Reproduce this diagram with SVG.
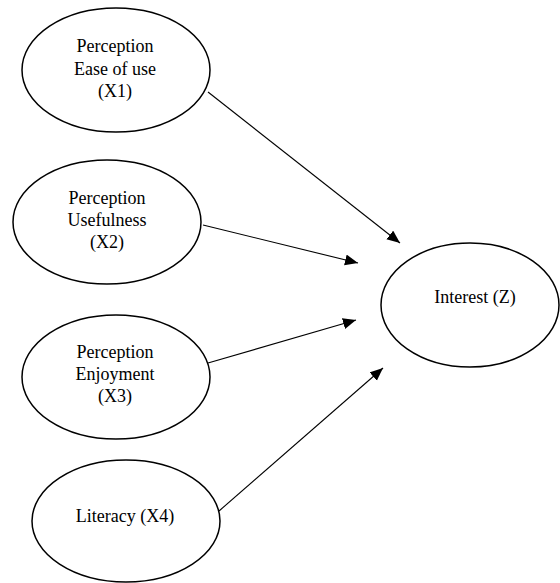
<svg xmlns="http://www.w3.org/2000/svg" width="560" height="583" viewBox="0 0 560 583">
<style>
.n ellipse{fill:#fff;stroke:#000;stroke-width:1.5}
.n text{font-family:"Liberation Serif","Times New Roman",serif;font-size:18px;fill:#000;text-anchor:middle}
.c line{stroke:#000;stroke-width:1.1}
</style>
<defs>
<marker id="ah" markerUnits="userSpaceOnUse" markerWidth="14" markerHeight="12" refX="13" refY="5.5" orient="auto">
<path d="M0,0 L13,5.5 L0,11 Z" fill="#000"/>
</marker>
</defs>
<rect width="560" height="583" fill="#fff"/>
<g id="x1" class="n">
<ellipse cx="116" cy="70" rx="94" ry="62"/>
<text x="115" y="52">Perception</text>
<text x="115" y="75">Ease of use</text>
<text x="115" y="97">(X1)</text>
</g>
<g id="x2" class="n">
<ellipse cx="107" cy="222" rx="94" ry="62"/>
<text x="107" y="204">Perception</text>
<text x="107" y="226">Usefulness</text>
<text x="107" y="248">(X2)</text>
</g>
<g id="x3" class="n">
<ellipse cx="116" cy="377" rx="94" ry="62"/>
<text x="115" y="358">Perception</text>
<text x="115" y="380">Enjoyment</text>
<text x="115" y="402">(X3)</text>
</g>
<g id="x4" class="n">
<ellipse cx="126" cy="521" rx="94" ry="61"/>
<text x="125" y="522">Literacy (X4)</text>
</g>
<g id="z" class="n">
<ellipse cx="470" cy="305" rx="89" ry="62"/>
<text x="475" y="303">Interest (Z)</text>
</g>
<g id="connectors" class="c">
<line x1="208" y1="92" x2="400" y2="243" marker-end="url(#ah)"/>
<line x1="203" y1="225" x2="358" y2="263" marker-end="url(#ah)"/>
<line x1="208" y1="363" x2="356" y2="320" marker-end="url(#ah)"/>
<line x1="219" y1="511" x2="383" y2="368" marker-end="url(#ah)"/>
</g>
</svg>
